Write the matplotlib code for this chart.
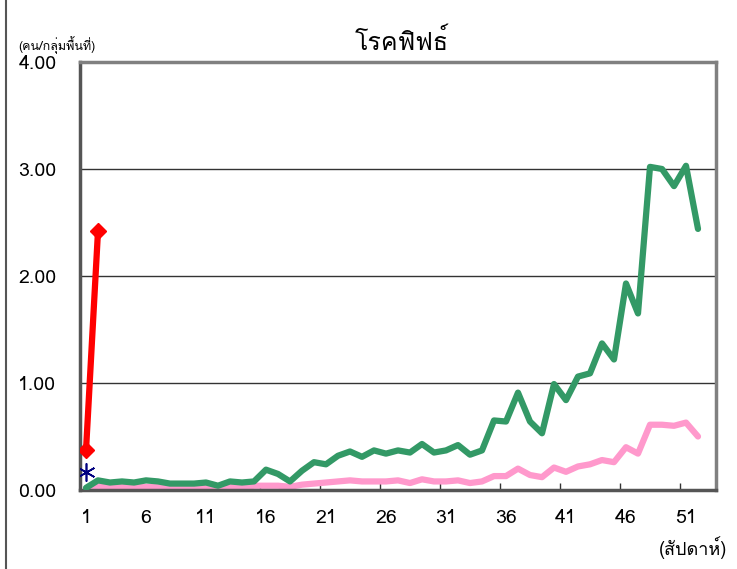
import matplotlib
matplotlib.use("Agg")
import matplotlib.pyplot as plt
from matplotlib import font_manager
from matplotlib.lines import Line2D

# weekly rate per area group
weeks = list(range(1, 53))

# median of previous years (green)
median = [0.02, 0.09, 0.07, 0.08, 0.07, 0.09, 0.08, 0.06, 0.06, 0.06,
          0.07, 0.04, 0.08, 0.07, 0.08, 0.19, 0.15, 0.08, 0.18, 0.26,
          0.24, 0.32, 0.36, 0.31, 0.37, 0.34, 0.37, 0.35, 0.43, 0.35,
          0.37, 0.42, 0.33, 0.37, 0.65, 0.64, 0.91, 0.64, 0.53, 0.99,
          0.84, 1.06, 1.09, 1.37, 1.22, 1.93, 1.65, 3.02, 3.00, 2.84,
          3.03, 2.44]

# previous year (pink)
last_year = [0.00, 0.04, 0.03, 0.03, 0.03, 0.03, 0.03, 0.02, 0.02, 0.02,
             0.03, 0.01, 0.03, 0.025, 0.04, 0.04, 0.04, 0.03, 0.05, 0.06,
             0.07, 0.08, 0.09, 0.08, 0.08, 0.08, 0.09, 0.065, 0.10, 0.08,
             0.08, 0.09, 0.065, 0.08, 0.13, 0.13, 0.20, 0.14, 0.12, 0.21,
             0.17, 0.22, 0.24, 0.28, 0.26, 0.40, 0.34, 0.61, 0.61, 0.60,
             0.63, 0.50]

# current year (red)
this_weeks = [1, 2]
this_year = [0.37, 2.42]

# single point (star)
star_weeks = [1]
star_vals = [0.17]

tick_weeks = [1, 6, 11, 16, 21, 26, 31, 36, 41, 46, 51]
y_ticks = [0, 1, 2, 3, 4]


# find a font that can draw Thai
def find_thai_font():
    try:
        from fontTools.ttLib import TTFont
    except ImportError:
        return None
    for f in font_manager.fontManager.ttflist:
        try:
            tt = TTFont(f.fname, fontNumber=0, lazy=True)
            cmap = tt.getBestCmap()
            if cmap and 0x0E42 in cmap and 0x0E04 in cmap:
                return f.name
        except Exception:
            continue
    return None


thai = find_thai_font()
families = [thai, "DejaVu Sans"] if thai else ["DejaVu Sans"]
plt.rcParams["font.family"] = families

fig = plt.figure(figsize=(7.37, 5.69), dpi=100)
ax = fig.add_axes([80 / 737, 1 - 490 / 569, 636 / 737, 428 / 569])

ax.plot(weeks, median, color="#339966", lw=4.5, solid_capstyle="round",
        zorder=3)
ax.plot(weeks, last_year, color="#FF99CC", lw=4.5, solid_capstyle="round",
        zorder=2)
ax.plot(this_weeks, this_year, color="#FF0000", lw=4.5, marker="D", ms=8,
        zorder=4)
ax.plot(star_weeks, star_vals, color="#000080", lw=0, marker=(6, 2, 0),
        ms=13, mew=1.2, zorder=5)

ax.set_xlim(0.5, 53.5)
ax.set_ylim(0, 4)
ax.set_yticks(y_ticks)
ax.set_yticklabels([f"{v:.2f}" for v in y_ticks], fontsize=14)
ax.tick_params(axis="y", length=0, pad=17)

# category labels in the middle, tick marks on the boundaries
ax.set_xticks(tick_weeks)
ax.set_xticklabels([str(w) for w in tick_weeks], fontsize=14)
ax.tick_params(axis="x", which="major", length=0, pad=14)
ax.set_xticks([w - 0.5 for w in tick_weeks], minor=True)
ax.tick_params(axis="x", which="minor", direction="in", length=5,
               width=1, color="#333333")

ax.grid(axis="y", color="#333333", lw=1)
ax.set_axisbelow(True)
for side in ["top", "right"]:
    ax.spines[side].set_color("#808080")
    ax.spines[side].set_linewidth(2.5)
for side in ["left", "bottom"]:
    ax.spines[side].set_color("#555555")
    ax.spines[side].set_linewidth(2.5)

fig.text(402 / 737, 1 - 42 / 569, "โรคฟิฟธ์", fontsize=18,
         ha="center", va="center")
fig.text(18 / 737, 1 - 45 / 569, "(คน/กลุ่มพื้นที่)", fontsize=9,
         ha="left", va="center")
fig.text(727 / 737, 1 - 548 / 569, "(สัปดาห์)", fontsize=13,
         ha="right", va="center")

# chart area edge on the left
fig.add_artist(Line2D([6 / 737, 6 / 737], [0, 1], color="#555555", lw=1.5,
                      transform=fig.transFigure))

fig.savefig("out.png", dpi=100)
